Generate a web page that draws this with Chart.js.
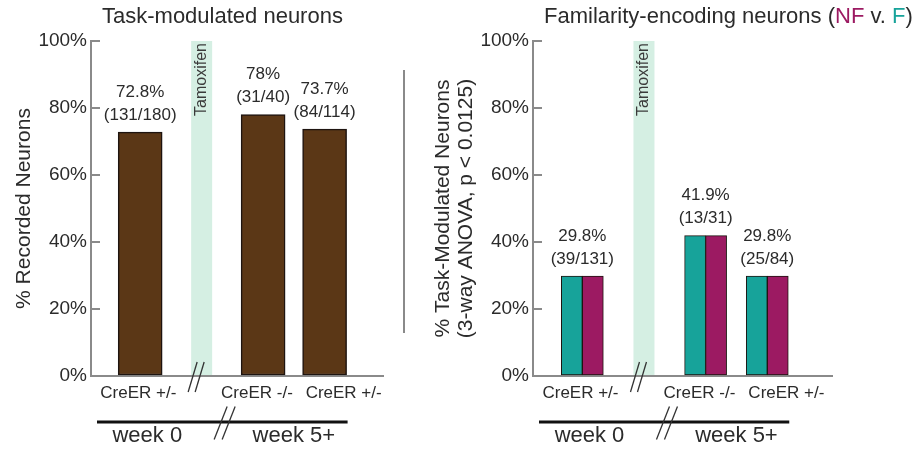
<!DOCTYPE html>
<html>
<head>
<meta charset="utf-8">
<script src="https://cdn.jsdelivr.net/npm/chart.js@4.4.1/dist/chart.umd.min.js"></script>
<style>
  html, body { margin: 0; padding: 0; background: #ffffff; }
  #wrap { position: relative; width: 920px; height: 450px; overflow: hidden; }
  canvas { position: absolute; top: 0; }
  #taskChart { left: 0; }
  #famChart { left: 420px; }
</style>
</head>
<body>
<div id="wrap">
  <canvas id="taskChart" width="420" height="450"></canvas>
  <canvas id="famChart" width="500" height="450"></canvas>
</div>
<script>
// ---- data ----
const genotypes = ['CreER +/-', 'CreER -/-', 'CreER +/-'];
const weekLabels = ['week 0', 'week 5+'];
const recordedPct = [72.8, 78, 73.7];
const recordedCounts = ['131/180', '31/40', '84/114'];
const famF = [29.8, 41.9, 29.8];
const famNF = [29.8, 41.9, 29.8];
const famCounts = ['39/131', '13/31', '25/84'];
const yTickValues = [0, 20, 40, 60, 80, 100];

// ---- look ----
const FONT = '"Liberation Sans", Arial, Helvetica, sans-serif';
const TEXT = '#2b2b2b';
const AXIS = '#8a8a8a';
const BROWN = '#5b3716';
const TEAL = '#17a39a';
const MAGENTA = '#9c1a62';
const BAND = '#d5efe3';
const OUTLINE = '#1e1410';

// The tamoxifen window occupies its own slot on the x axis, between week 0 and week 5+.
const TAMOXIFEN_SLOT = 1;
const slotOf = i => (i < TAMOXIFEN_SLOT ? i : i + 1);
// Genotype captions sit slightly off their bar centres so the two week-5+ captions don't collide.
const CAPTION_NUDGE = [-0.03, -0.1, 0.31];

function drawBreak(ctx, cx, cy, half, dx, gap, lw) {
  ctx.save();
  ctx.strokeStyle = '#333333';
  ctx.lineWidth = lw;
  [-gap / 2, gap / 2].forEach(off => {
    ctx.beginPath();
    ctx.moveTo(cx + off - dx / 2, cy + half);
    ctx.lineTo(cx + off + dx / 2, cy - half);
    ctx.stroke();
  });
  ctx.restore();
}

// Tamoxifen band, value labels, title, week bracket and axis breaks.
function makeDecorations(cfg) {
  return {
    id: 'decorations',
    beforeDatasetsDraw(chart) {
      const { ctx, scales: { x, y } } = chart;
      const cx = x.getPixelForValue(TAMOXIFEN_SLOT);
      const top = y.getPixelForValue(100);
      const bottom = y.getPixelForValue(0) - 1;
      ctx.save();
      ctx.fillStyle = BAND;
      ctx.fillRect(cx - 10.5, top, 21, bottom - top);
      ctx.translate(cx, top + 2);
      ctx.rotate(-Math.PI / 2);
      ctx.font = '16px ' + FONT;
      ctx.fillStyle = '#3a3a3a';
      ctx.textAlign = 'right';
      ctx.textBaseline = 'middle';
      ctx.fillText('Tamoxifen', 0, 0);
      ctx.restore();
    },
    afterDraw(chart) {
      const { ctx, chartArea, scales: { x, y } } = chart;
      ctx.save();

      // value labels above each genotype group
      ctx.fillStyle = TEXT;
      ctx.font = '17px ' + FONT;
      ctx.textAlign = 'center';
      ctx.textBaseline = 'middle';
      cfg.values.forEach((v, i) => {
        const px = x.getPixelForValue(slotOf(i));
        const py = y.getPixelForValue(v);
        ctx.fillText(v + '%', px, py - 40);
        ctx.fillText('(' + cfg.counts[i] + ')', px, py - 17);
      });

      // chart title (segments may carry their own colour)
      ctx.font = '22px ' + FONT;
      ctx.textAlign = 'left';
      let tx = chartArea.left + 11;
      cfg.title.forEach(seg => {
        ctx.fillStyle = seg.color || TEXT;
        ctx.fillText(seg.text, tx, 17);
        tx += ctx.measureText(seg.text).width;
      });

      // break mark on the baseline at the tamoxifen window
      const bandX = x.getPixelForValue(TAMOXIFEN_SLOT);
      const base = y.getPixelForValue(0);
      drawBreak(ctx, bandX - 5.5, base + 1, 15, 9, 7, 1.3);

      // week bracket line
      const lastMeta = chart.getDatasetMeta(chart.data.datasets.length - 1);
      const lastBar = lastMeta.data[lastMeta.data.length - 1];
      const lineStart = chartArea.left + 6;
      const lineEnd = lastBar.x + lastBar.width / 2 + 1;
      const lineY = 422;
      ctx.strokeStyle = '#111111';
      ctx.lineWidth = 3;
      ctx.beginPath();
      ctx.moveTo(lineStart, lineY);
      ctx.lineTo(lineEnd, lineY);
      ctx.stroke();
      drawBreak(ctx, bandX + 23, lineY + 1, 16.5, 13, 8, 1.3);

      ctx.fillStyle = TEXT;
      ctx.font = '22px ' + FONT;
      ctx.textAlign = 'center';
      ctx.textBaseline = 'middle';
      ctx.fillText(weekLabels[0], (lineStart + bandX) / 2 - 2, 436);
      const w5 = (x.getPixelForValue(slotOf(1)) + x.getPixelForValue(slotOf(2))) / 2;
      ctx.fillText(weekLabels[1], w5, 436);

      if (cfg.separatorX) {
        ctx.strokeStyle = AXIS;
        ctx.lineWidth = 2;
        ctx.beginPath();
        ctx.moveTo(cfg.separatorX, 70);
        ctx.lineTo(cfg.separatorX, 333);
        ctx.stroke();
      }
      ctx.restore();
    }
  };
}

function makeOptions(o) {
  return {
    responsive: false,
    animation: false,
    devicePixelRatio: 1,
    layout: { padding: { left: 0, right: o.padRight, top: 41, bottom: 0 } },
    plugins: { legend: { display: false }, tooltip: { enabled: false }, title: { display: false } },
    scales: {
      x: {
        type: 'linear',
        offset: false,
        min: o.xMin,
        max: o.xMax,
        afterBuildTicks: s => {
          s.ticks = genotypes.map((_, i) => ({ value: slotOf(i) + CAPTION_NUDGE[i] }));
        },
        afterFit: s => { s.height = 74; },
        grid: { display: false, drawTicks: false, offset: false },
        border: { display: true, color: AXIS, width: 2 },
        ticks: {
          autoSkip: false,
          maxRotation: 0,
          padding: 7,
          color: TEXT,
          font: { family: FONT, size: 17 },
          callback: (v, i) => genotypes[i] ?? ''
        }
      },
      y: {
        min: 0,
        max: 100,
        afterBuildTicks: s => { s.ticks = yTickValues.map(v => ({ value: v })); },
        afterFit: s => { s.width = o.yWidth; },
        grid: { drawOnChartArea: false, drawTicks: true, tickLength: -9, color: AXIS, lineWidth: 2 },
        border: { display: true, color: AXIS, width: 2 },
        ticks: {
          padding: 13,
          color: TEXT,
          font: { family: FONT, size: 19 },
          callback: v => v + '%'
        },
        title: {
          display: true,
          text: o.yTitle,
          color: TEXT,
          font: { family: FONT, size: 21, lineHeight: 1.1 },
          padding: { top: o.yTitlePad, bottom: 0 }
        }
      }
    }
  };
}

// Task-modulated neurons
new Chart(document.getElementById('taskChart'), {
  type: 'bar',
  data: {
    datasets: [{
      label: 'Task-modulated',
      data: recordedPct.map((v, i) => ({ x: slotOf(i), y: v })),
      backgroundColor: BROWN,
      borderColor: OUTLINE,
      borderWidth: 1.5,
      borderSkipped: false,
      barThickness: 44
    }]
  },
  options: makeOptions({
    padRight: 37, yWidth: 91, xMin: -0.8, xMax: 3.95, yTitlePad: 13,
    yTitle: '% Recorded Neurons'
  }),
  plugins: [makeDecorations({
    values: recordedPct,
    counts: recordedCounts,
    title: [{ text: 'Task-modulated neurons' }],
    separatorX: 404
  })]
});

// Familiarity-encoding neurons (F and NF halves of each group)
new Chart(document.getElementById('famChart'), {
  type: 'bar',
  data: {
    datasets: [{
      label: 'F',
      data: famF.map((v, i) => ({ x: slotOf(i), y: v })),
      backgroundColor: TEAL,
      borderColor: OUTLINE,
      borderWidth: 1,
      borderSkipped: false,
      barThickness: 21
    }, {
      label: 'NF',
      data: famNF.map((v, i) => ({ x: slotOf(i), y: v })),
      backgroundColor: MAGENTA,
      borderColor: OUTLINE,
      borderWidth: 1,
      borderSkipped: false,
      barThickness: 21
    }]
  },
  options: makeOptions({
    padRight: 88, yWidth: 113, xMin: -0.8, xMax: 4.05, yTitlePad: 12,
    yTitle: ['% Task-Modulated Neurons', '(3-way ANOVA, p < 0.0125)']
  }),
  plugins: [makeDecorations({
    values: famNF,
    counts: famCounts,
    title: [
      { text: 'Familarity-encoding neurons (' },
      { text: 'NF', color: MAGENTA },
      { text: ' v. ' },
      { text: 'F', color: TEAL },
      { text: ')' }
    ]
  })]
});
</script>
</body>
</html>
